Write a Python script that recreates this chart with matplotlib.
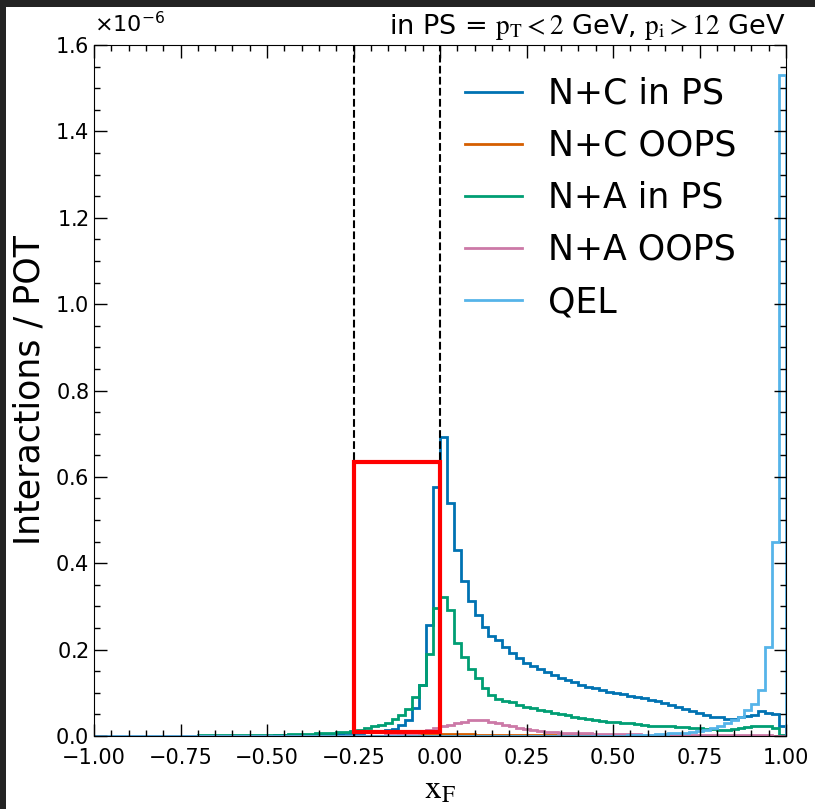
import numpy as np
import matplotlib
matplotlib.use("Agg")
import matplotlib.pyplot as plt
from matplotlib.patches import Rectangle
from matplotlib.ticker import MultipleLocator

# ---- data (units of 1e-6 interactions / POT), 100 bins from -1 to 1 ----
edges = np.linspace(-1.0, 1.0, 101)

nc_in_ps = [
    0.0, 0.0, 0.0, 0.0, 0.0, 0.0, 0.0, 0.0, 0.0, 0.0,
    0.0005, 0.0005, 0.0005, 0.0005, 0.0005, 0.0005, 0.0005, 0.0005, 0.0005, 0.0005,
    0.001, 0.001, 0.001, 0.001, 0.001, 0.001, 0.0015, 0.002, 0.002, 0.0025,
    0.003, 0.003, 0.004, 0.004, 0.005, 0.005, 0.006, 0.007, 0.008, 0.009,
    0.010, 0.011, 0.013, 0.017, 0.025, 0.037, 0.064, 0.118, 0.257, 0.577,
    0.693, 0.539, 0.431, 0.360, 0.313, 0.280, 0.252, 0.232, 0.222, 0.207,
    0.193, 0.180, 0.170, 0.162, 0.155, 0.148, 0.141, 0.135, 0.129, 0.124,
    0.119, 0.114, 0.110, 0.106, 0.103, 0.100, 0.097, 0.093, 0.090, 0.087,
    0.083, 0.080, 0.076, 0.072, 0.068, 0.063, 0.058, 0.053, 0.048, 0.045,
    0.043, 0.040, 0.039, 0.043, 0.046, 0.049, 0.057, 0.054, 0.052, 0.023,
]

nc_oops = [
    0.0] * 45 + [
    0.001, 0.001, 0.0015, 0.002, 0.002,
    0.0035, 0.0035, 0.0035, 0.0035, 0.0035, 0.003, 0.003, 0.003, 0.003, 0.0025,
    0.0025, 0.002, 0.002, 0.002, 0.002, 0.002, 0.002, 0.0015, 0.0015, 0.0015,
    0.0015, 0.0015, 0.001, 0.001, 0.001, 0.001, 0.001, 0.001, 0.001, 0.0005,
    0.0005, 0.0005, 0.0005, 0.0005, 0.0005, 0.0, 0.0, 0.0, 0.0, 0.0,
    0.0, 0.0, 0.0, 0.0, 0.0, 0.0, 0.0, 0.0, 0.0, 0.0,
]

na_in_ps = [
    0.0, 0.0, 0.0, 0.0, 0.0, 0.0005, 0.0005, 0.0005, 0.0005, 0.0005,
    0.001, 0.001, 0.001, 0.001, 0.001, 0.0012, 0.0013, 0.0014, 0.0015, 0.0016,
    0.0017, 0.0018, 0.0019, 0.002, 0.002, 0.0022, 0.0025, 0.003, 0.0035, 0.004,
    0.0045, 0.005, 0.006, 0.007, 0.008, 0.009, 0.010, 0.012, 0.015, 0.018,
    0.022, 0.025, 0.031, 0.039, 0.049, 0.062, 0.091, 0.118, 0.191, 0.296,
    0.323, 0.292, 0.216, 0.184, 0.154, 0.134, 0.110, 0.095, 0.086, 0.082,
    0.078, 0.072, 0.068, 0.064, 0.060, 0.057, 0.054, 0.051, 0.048, 0.045,
    0.042, 0.039, 0.036, 0.034, 0.033, 0.032, 0.030, 0.029, 0.027, 0.025,
    0.024, 0.023, 0.023, 0.022, 0.021, 0.020, 0.019, 0.018, 0.017, 0.016,
    0.015, 0.015, 0.016, 0.019, 0.021, 0.022, 0.023, 0.022, 0.018, 0.003,
]

na_oops = [
    0.0] * 40 + [
    0.001, 0.001, 0.002, 0.003, 0.004, 0.006, 0.008, 0.011, 0.014, 0.018,
    0.022, 0.026, 0.030, 0.033, 0.036, 0.038, 0.036, 0.032, 0.029, 0.025,
    0.022, 0.019, 0.016, 0.014, 0.012, 0.010, 0.009, 0.008, 0.008, 0.007,
    0.006, 0.006, 0.005, 0.005, 0.005, 0.004, 0.004, 0.004, 0.004, 0.003,
    0.003, 0.003, 0.003, 0.003, 0.003, 0.003, 0.002, 0.002, 0.002, 0.002,
    0.002, 0.002, 0.002, 0.002, 0.002, 0.002, 0.002, 0.002, 0.001, 0.0,
]

qel = [
    0.0] * 75 + [
    0.001, 0.001, 0.002, 0.002, 0.003,
    0.003, 0.004, 0.005, 0.006, 0.007, 0.008, 0.010, 0.012, 0.014, 0.018,
    0.022, 0.029, 0.037, 0.045, 0.060, 0.074, 0.107, 0.205, 0.45, 1.53,
]

series = [
    ("N+C in PS", nc_in_ps, "#0072B2"),
    ("N+C OOPS", nc_oops, "#D55E00"),
    ("N+A in PS", na_in_ps, "#009E73"),
    ("N+A OOPS", na_oops, "#CC79A7"),
    ("QEL", qel, "#56B4E9"),
]

title_text = r"in PS = $\mathrm{p_T} < 2$ GeV, $\mathrm{p_i} > 12$ GeV"
xlabel_text = r"$\mathrm{x_F}$"
ylabel_text = "Interactions / POT"
offset_text = r"$\times10^{-6}$"

# ---- figure ----
fig = plt.figure(figsize=(8.15, 8.09), dpi=100, facecolor="#232323")
fig.patches.append(Rectangle((6 / 815, 0), 1, 802 / 809, transform=fig.transFigure,
                             facecolor="white", edgecolor="none", zorder=-10))
ax = fig.add_axes([94 / 815, 1 - 736 / 809, 692 / 815, 691 / 809])

for label, vals, col in series:
    ax.stairs(np.array(vals) * 1e-6, edges, color=col, lw=2, label=label)

ax.axvline(-0.25, color="k", ls="--", lw=1.5, zorder=1)
ax.axvline(0.0, color="k", ls="--", lw=1.5, zorder=1)
ax.add_patch(Rectangle((-0.25, 0.0095e-6), 0.25, 0.6255e-6, fill=False,
                       edgecolor="red", lw=3, zorder=5))

ax.set_xlim(-1, 1)
ax.set_ylim(0, 1.6e-6)
ax.xaxis.set_major_locator(MultipleLocator(0.25))
ax.xaxis.set_minor_locator(MultipleLocator(0.05))
ax.yaxis.set_major_locator(MultipleLocator(0.2e-6))
ax.yaxis.set_minor_locator(MultipleLocator(0.05e-6))
ax.ticklabel_format(axis="y", style="sci", scilimits=(0, 0), useMathText=True)
ax.tick_params(which="both", direction="in", top=True, right=True, labelsize=15)
ax.tick_params(which="major", length=9, width=1)
ax.tick_params(which="minor", length=4.5, width=1)
ax.tick_params(axis="x", which="both", pad=9)
ax.yaxis.get_offset_text().set_visible(False)
ax.text(0.0, 1.019, offset_text, transform=ax.transAxes, ha="left",
        va="baseline", fontsize=16)

ax.set_title(title_text, loc="right", fontsize=19.5, math_fontfamily="stix", pad=8)
ax.set_xlabel(xlabel_text, fontsize=24, math_fontfamily="stix", labelpad=3)
ax.set_ylabel(ylabel_text, fontsize=25, labelpad=6)

ax.legend(loc="upper right", bbox_to_anchor=(0.929, 0.954), borderaxespad=0,
          borderpad=0, frameon=False, fontsize=25, handlelength=1.65,
          handletextpad=0.75, labelspacing=0.52)

fig.savefig("out.png", dpi=100, facecolor=fig.get_facecolor())
